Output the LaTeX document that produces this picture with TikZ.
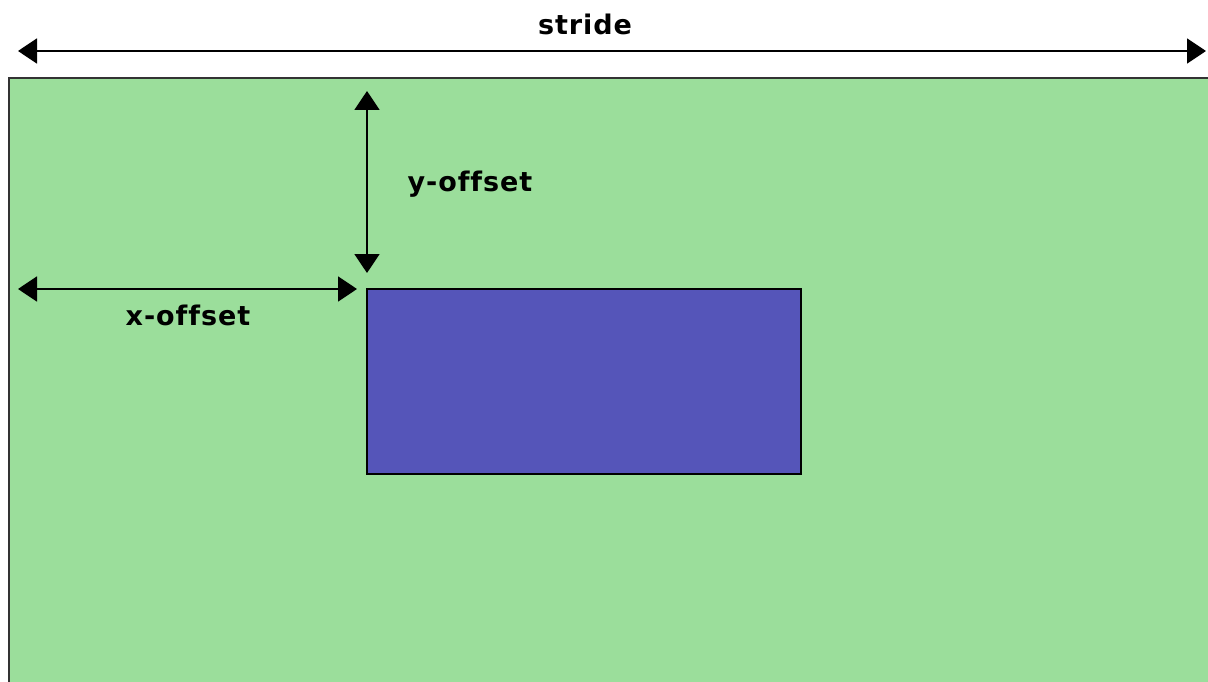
\documentclass[tikz,border=0pt]{standalone}
\usepackage{fontspec}
\setmainfont[Ligatures=NoCommon, LetterSpace=3.5]{DejaVu Sans}
\usetikzlibrary{arrows.meta, positioning}
\definecolor{framegreen}{HTML}{9BDE9B}
\definecolor{roiblue}{HTML}{5555B9}
\definecolor{edgegray}{HTML}{333333}

\begin{document}
\begin{tikzpicture}[x=1pt, y=-1pt,
    dimarrow/.style={{Triangle[length=19pt, width=25pt]}-{Triangle[length=19pt, width=25pt]}, line width=2pt, black},
    dimlabel/.style={font=\fontsize{27}{32}\selectfont\bfseries, inner sep=0pt}]
          \useasboundingbox (0,0) rectangle (1208,682);
          \clip (0,0) rectangle (1208,682);
          % Marco completo
          \draw[fill=framegreen, draw=edgegray, line width=2pt] (9,78) rectangle (1230,700);
          % Region interior
          \draw[fill=roiblue, draw=black, line width=2pt] (367,289) rectangle (801,474);
          \coordinate (roi) at (367,289);
          % Puntos de las cotas
          \coordinate (strideL) at (18,51);
          \coordinate (strideR) at (1206,51);
          \coordinate (yoffT) at (367,91);
          \coordinate (yoffB) at (367,273);
          \coordinate (xoffL) at (18,289);
          \coordinate (xoffR) at (357,289);
          % Cotas
          \draw[dimarrow] (strideL) -- (strideR);
          \draw[dimarrow] (yoffT) -- (yoffB);
          \draw[dimarrow] (xoffL) -- (xoffR);
          % Etiquetas
          \node[dimlabel] (stridelbl) at (585,24) {stride};
          \node[dimlabel] (yofflbl) at (470,184) {y-offset};
          \node[dimlabel] (xofflbl) at (188,315) {x-offset};
        \end{tikzpicture}
\end{document}
